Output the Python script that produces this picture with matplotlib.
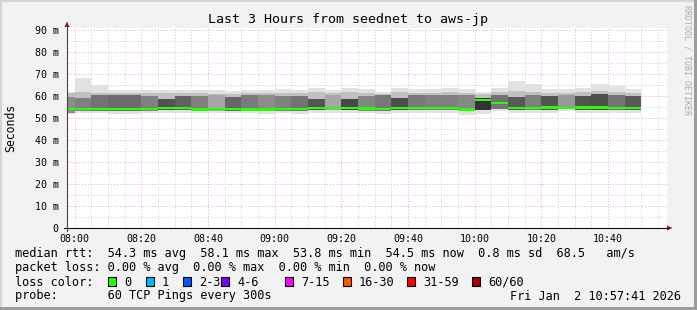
import matplotlib
matplotlib.use("Agg")
import matplotlib.pyplot as plt
import matplotlib.dates as mdates
import matplotlib.ticker as mticker
from matplotlib.patches import Rectangle, Polygon
from matplotlib.lines import Line2D
import numpy as np
import pandas as pd

# ======================================================================
# Data (ms), one value per 5 minute bin.
# ======================================================================

bin_start = pd.date_range("2026-01-02 07:55", periods=35, freq="5min")

median = [54.0, 54.0, 54.0, 54.0, 54.0, 54.0, 54.5, 54.5, 53.8, 54.0,
          54.0, 53.9, 53.9, 54.2, 54.2, 54.5, 54.5, 54.5, 54.4, 54.1,
          54.5, 54.5, 54.5, 54.5, 53.9, 58.1, 56.7, 54.5, 54.5, 54.7,
          54.5, 54.7, 54.7, 54.5, 54.5]
smoke_max = [62.0, 68.3, 65.0, 62.7, 62.7, 62.7, 62.7, 62.7, 62.7, 62.7,
             62.2, 62.7, 62.7, 63.0, 62.7, 63.5, 62.7, 63.5, 63.0, 62.0,
             63.5, 63.0, 63.0, 63.5, 63.0, 62.0, 63.5, 67.0, 65.3, 63.0,
             63.0, 63.5, 65.5, 64.7, 63.0]
smoke_upper = [61.5, 62.0, 61.5, 61.5, 61.5, 61.5, 61.5, 61.5, 61.5, 61.0,
               61.0, 61.5, 61.5, 61.5, 61.5, 62.0, 61.5, 62.0, 61.5, 61.0,
               62.0, 61.5, 61.5, 62.0, 61.5, 61.0, 62.0, 62.5, 62.0, 61.5,
               61.5, 62.0, 62.5, 62.0, 61.5]
core_top = [59.7, 59.0, 60.5, 60.5, 60.5, 60.0, 58.5, 60.0, 60.0, 60.5,
            59.5, 60.5, 60.5, 60.0, 60.0, 58.5, 60.5, 58.5, 60.0, 60.5,
            59.0, 60.5, 60.5, 60.5, 60.5, 59.0, 60.5, 59.5, 60.5, 60.0,
            60.5, 60.0, 61.0, 60.5, 60.0]
core_bot = [52.5, 53.0, 53.0, 53.0, 53.0, 53.0, 53.5, 53.5, 53.0, 53.0,
            53.0, 53.0, 53.0, 53.2, 53.2, 53.5, 53.5, 53.5, 53.3, 53.0,
            53.5, 53.5, 53.5, 53.5, 53.0, 53.5, 54.0, 53.5, 53.5, 53.5,
            54.0, 53.5, 53.5, 53.5, 53.5]
smoke_min = [51.8, 52.2, 52.2, 52.0, 51.8, 52.5, 52.5, 52.5, 52.2, 52.2,
             52.5, 52.2, 52.0, 52.5, 52.0, 52.5, 52.5, 52.5, 52.5, 52.0,
             52.5, 52.5, 52.5, 52.5, 51.5, 52.0, 53.0, 52.5, 52.5, 52.5,
             53.0, 52.5, 52.5, 52.5, 52.5]
core_shade = [0.55, 0.50, 0.45, 0.42, 0.42, 0.50, 0.32, 0.38, 0.50, 0.65,
              0.40, 0.48, 0.55, 0.50, 0.45, 0.33, 0.65, 0.28, 0.52, 0.47,
              0.30, 0.47, 0.50, 0.50, 0.53, 0.20, 0.45, 0.35, 0.50, 0.33,
              0.60, 0.32, 0.30, 0.45, 0.35]

title = "Last 3 Hours from seednet to aws-jp"
row_rtt = "median rtt:  54.3 ms avg  58.1 ms max  53.8 ms min  54.5 ms now  0.8 ms sd  68.5   am/s"
row_loss = "packet loss: 0.00 % avg  0.00 % max  0.00 % min  0.00 % now"
row_probe = "probe:       60 TCP Pings every 300s"
stamp = "Fri Jan  2 10:57:41 2026"
loss_labels = ["0", "1", "2-3", "4-6", "7-15", "16-30", "31-59", "60/60"]
loss_colors = ["#26ff00", "#00b8ff", "#0059ff", "#7e00ff", "#ff00ff",
               "#ff5500", "#ff0000", "#a00000"]
loss_box_x = [108, 146, 183, 221, 285, 343, 407, 472]

# ======================================================================
# Figure
# ======================================================================

W, H = 697, 310
MONO = "DejaVu Sans Mono"


def fx(x):
    return x / W


def fy(y):
    return 1 - y / H


fig = plt.figure(figsize=(W / 100, H / 100), dpi=100, facecolor="#f2f2f2")

# 3d frame of the rrd image
fig.patches.append(Rectangle((0, fy(2)), 1, 2 / H, transform=fig.transFigure,
                             color="#d4d4d4", lw=0))
fig.patches.append(Rectangle((0, 0), 2 / W, 1, transform=fig.transFigure,
                             color="#d4d4d4", lw=0))
fig.patches.append(Rectangle((0, 0), 1, 3 / H, transform=fig.transFigure,
                             color="#9c9c9c", lw=0))
fig.patches.append(Rectangle((fx(694), 0), 3 / W, 1, transform=fig.transFigure,
                             color="#9c9c9c", lw=0))

ax = fig.add_axes([fx(67), fy(228), 600 / W, 200 / H])
ax.set_facecolor("white")
for s in ax.spines.values():
    s.set_visible(False)

t0 = pd.Timestamp("2026-01-02 07:57:41")
t1 = pd.Timestamp("2026-01-02 10:57:41")
ax.set_xlim(t0, t1)

ax.xaxis.set_major_locator(mdates.MinuteLocator(byminute=[0, 20, 40]))
ax.xaxis.set_minor_locator(mdates.MinuteLocator(byminute=range(0, 60, 5)))
ax.xaxis.set_major_formatter(mdates.DateFormatter("%H:%M"))
ax.yaxis.set_major_locator(mticker.MultipleLocator(10))
ax.yaxis.set_minor_locator(mticker.MultipleLocator(5))
ax.yaxis.set_major_formatter(
    mticker.FuncFormatter(lambda v, p: "0" if v == 0 else "%d m" % v))
ax.set_ylim(0, 200 / 2.2)

ax.grid(which="minor", color="#cccccc", linestyle=(0, (1, 2)), lw=0.7)
ax.grid(which="major", color="#f2a4a4", linestyle=(0, (1, 2)), lw=0.7)
ax.set_axisbelow(True)
ax.tick_params(which="both", length=0)
ax.tick_params(axis="x", pad=4)
ax.tick_params(axis="y", pad=6)
for lab in ax.get_xticklabels() + ax.get_yticklabels():
    lab.set_fontfamily(MONO)
    lab.set_fontsize(7.2)

# smoke
width = pd.Timedelta(minutes=5)
x = bin_start
ax.bar(x, np.subtract(smoke_max, smoke_min), width=width, bottom=smoke_min,
       align="edge", color="#e2e2e2", lw=0, zorder=2)
ax.bar(x, np.subtract(smoke_upper, core_bot), width=width, bottom=core_bot,
       align="edge", color="#c0c0c0", lw=0, zorder=3)
ax.bar(x, np.subtract(core_top, core_bot), width=width, bottom=core_bot,
       align="edge", color=[(g, g, g) for g in core_shade], lw=0, zorder=4)

# median line as a thin stacked area
ax.bar(x, 1.1, width=width, bottom=np.subtract(median, 0.55), align="edge",
       color=loss_colors[0], lw=0, zorder=5)

# axes with arrows
axis_col = "#404040"
fig.add_artist(Line2D([fx(64), fx(668)], [fy(228), fy(228)], color="#101010",
                      lw=0.8))
fig.add_artist(Line2D([fx(67), fx(67)], [fy(231), fy(26)], color=axis_col,
                      lw=0.8))
arrow_col = "#8b1a1a"
fig.patches.append(Polygon([(fx(667), fy(225.5)), (fx(672.5), fy(228)),
                            (fx(667), fy(230.5))], closed=True,
                           transform=fig.transFigure, color=arrow_col, lw=0))
fig.patches.append(Polygon([(fx(64.5), fy(27)), (fx(67), fy(21.5)),
                            (fx(69.5), fy(27))], closed=True,
                           transform=fig.transFigure, color=arrow_col, lw=0))

# texts
fig.text(fx(348), fy(19), title, family=MONO, fontsize=9.6, ha="center",
         va="center")
fig.text(fx(11), fy(128), "Seconds", family=MONO, fontsize=8.3,
         rotation=90, ha="center", va="center")
fig.text(fx(687), fy(60), "RRDTOOL / TOBI OETIKER", family=MONO, fontsize=6,
         rotation=270, ha="center", va="center", color="#acacac")

fig.text(fx(15), fy(254), row_rtt, family=MONO, fontsize=8.55, va="center")
fig.text(fx(15), fy(268), row_loss, family=MONO, fontsize=8.55, va="center")
fig.text(fx(15), fy(282), "loss color:", family=MONO, fontsize=8.55,
         va="center")
for lab, col, bx in zip(loss_labels, loss_colors, loss_box_x):
    fig.patches.append(Rectangle((fx(bx), fy(286)), 8 / W, 9 / H,
                                 transform=fig.transFigure, facecolor=col,
                                 edgecolor="black", lw=0.8))
    fig.text(fx(bx + 16), fy(282), lab, family=MONO, fontsize=8.55,
             va="center")
fig.text(fx(15), fy(296), row_probe, family=MONO, fontsize=8.55, va="center")
fig.text(fx(681), fy(296), stamp, family=MONO, fontsize=8.55, ha="right",
         va="center")

fig.savefig("out.png", dpi=100, facecolor=fig.get_facecolor())
